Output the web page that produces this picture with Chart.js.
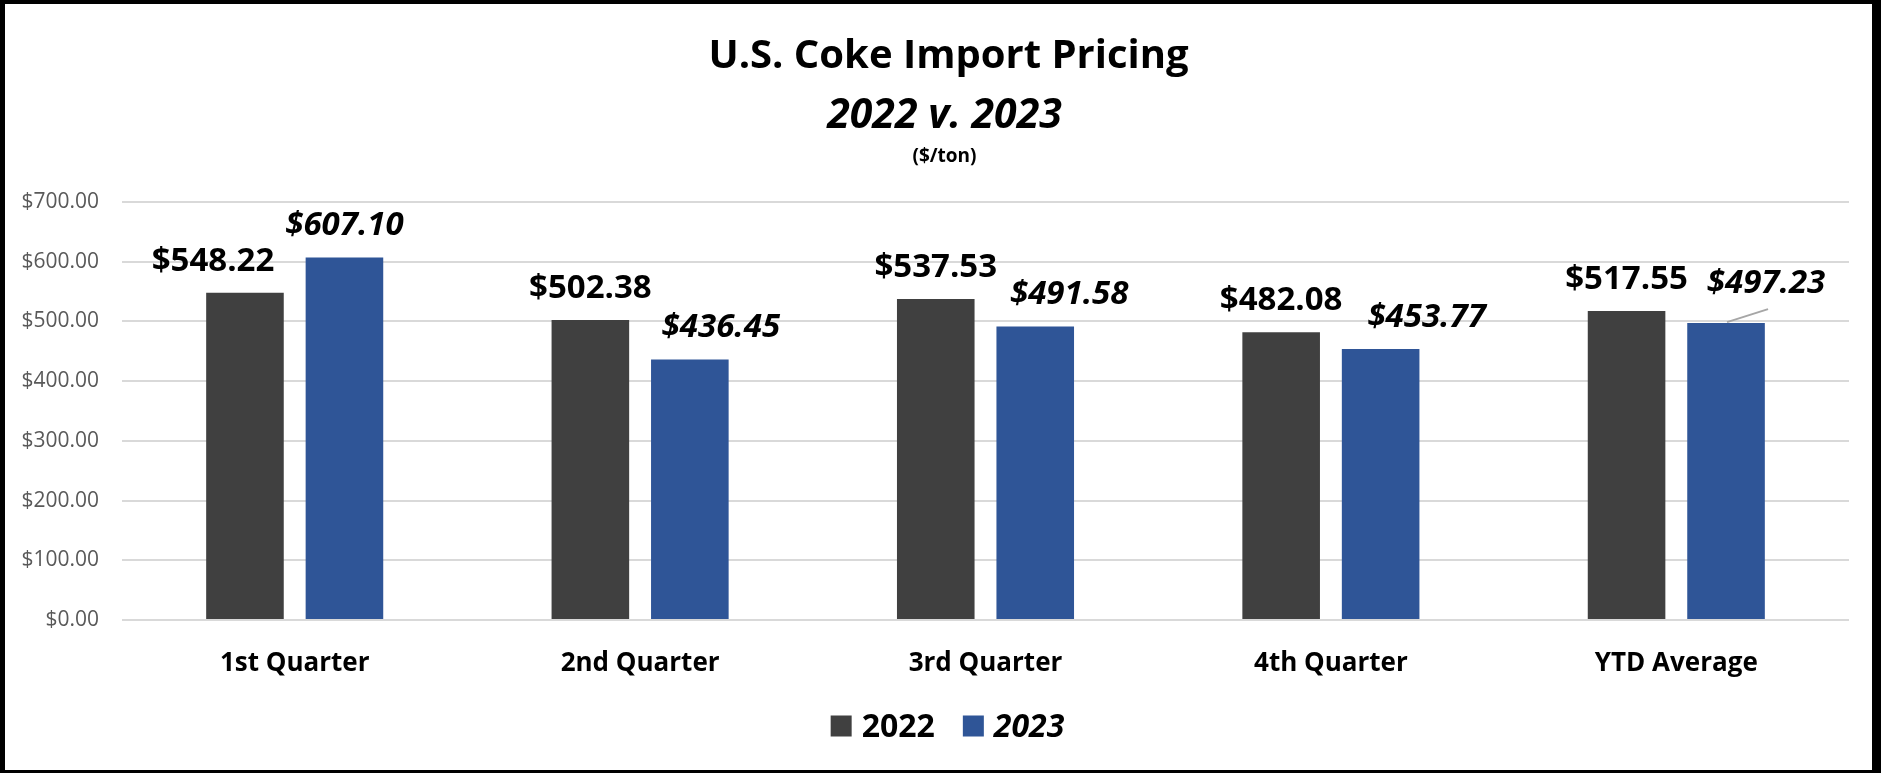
<!DOCTYPE html>
<html>
<head>
<meta charset="utf-8">
<script src="https://cdn.jsdelivr.net/npm/chart.js@4.4.1/dist/chart.umd.min.js"></script>
<style>
  html, body { margin: 0; padding: 0; background: #fff; }
  #wrap {
    width: 1881px; height: 773px; box-sizing: border-box;
    border-style: solid; border-color: #000;
    border-width: 4px 9px 3px 5px;
  }
  #chart { display: block; }
</style>
</head>
<body>
<div id="wrap"><canvas id="chart" width="1867" height="766"></canvas></div>
<script>
// data
const categories = ['1st Quarter', '2nd Quarter', '3rd Quarter', '4th Quarter', 'YTD Average'];
const series2022 = [548.22, 502.38, 537.53, 482.08, 517.55];
const series2023 = [607.10, 436.45, 491.58, 453.77, 497.23];
const yTicks = [0, 100, 200, 300, 400, 500, 600, 700];

const FONT = "'Open Sans', sans-serif";
const money = v => '$' + Number(v).toFixed(2);

// value labels above each bar (some nudged sideways like in the original)
const valueLabels = {
    id: 'valueLabels',
    afterDatasetsDraw(chart) {
        const ctx = chart.ctx;
        ctx.save();
        ctx.textAlign = 'center';
        ctx.textBaseline = 'alphabetic';
        chart.data.datasets.forEach((ds, i) => {
            const meta = chart.getDatasetMeta(i);
            meta.data.forEach((bar, j) => {
                const x = bar.x + ds.labelDx[j];
                const y = bar.y - 22 + ds.labelDy[j];
                if (ds.leader[j]) {
                    ctx.strokeStyle = '#a6a6a6';
                    ctx.lineWidth = 2;
                    ctx.beginPath();
                    ctx.moveTo(bar.x + 1, bar.y - 1);
                    ctx.lineTo(x + 2, y + 16);
                    ctx.stroke();
                }
                ctx.fillStyle = '#000';
                ctx.font = ds.labelFont;
                ctx.fillText(money(ds.data[j]), x, y);
            });
        });
        ctx.restore();
    }
};

// three line title + legend with mixed upright / italic text
const decorations = {
    id: 'decorations',
    afterDraw(chart) {
        const ctx = chart.ctx;
        const cx = chart.width / 2 + 6;
        ctx.save();
        ctx.fillStyle = '#000';
        ctx.textAlign = 'center';
        ctx.textBaseline = 'alphabetic';
        ctx.font = 'bold 40px ' + FONT;
        ctx.fillText('U.S. Coke Import Pricing', cx + 4, 64);
        ctx.font = 'italic bold 41px ' + FONT;
        ctx.fillText('2022 v. 2023', cx, 124);
        ctx.font = 'bold 19px ' + FONT;
        ctx.fillText('($/ton)', cx, 158);

        // legend
        const box = 21, cy = 722;
        const items = chart.data.datasets.map(ds => {
            ctx.font = ds.legendFont;
            return { ds, w: ctx.measureText(ds.label).width };
        });
        const total = items.reduce((s, it) => s + box + 10 + it.w, 0) + 28 * (items.length - 1);
        let x = cx + 3 - total / 2;
        ctx.textAlign = 'left';
        ctx.textBaseline = 'middle';
        items.forEach(it => {
            ctx.fillStyle = it.ds.backgroundColor;
            ctx.fillRect(x, cy - box / 2, box, box);
            x += box + 10;
            ctx.fillStyle = '#000';
            ctx.font = it.ds.legendFont;
            ctx.fillText(it.ds.label, x, cy + 2);
            x += it.w + 28;
        });
        ctx.restore();
    }
};

new Chart(document.getElementById('chart'), {
    type: 'bar',
    data: {
        labels: categories,
        datasets: [{
            label: '2022',
            data: series2022,
            backgroundColor: '#404040',
            labelFont: 'bold 33px ' + FONT,
            legendFont: 'bold 32px ' + FONT,
            labelDx: [-32, 0, 0, 0, 0],
            labelDy: [0, 0, 0, 0, 0],
            leader: [false, false, false, false, false]
        }, {
            label: '2023',
            data: series2023,
            backgroundColor: '#2F5597',
            labelFont: 'italic bold 33px ' + FONT,
            legendFont: 'italic bold 32px ' + FONT,
            labelDx: [0, 31, 34, 46, 40],
            labelDy: [0, 0, 0, 0, -8],
            leader: [false, false, false, false, true]
        }]
    },
    options: {
        responsive: false,
        animation: false,
        categoryPercentage: 0.576,
        barPercentage: 0.78,
        layout: { padding: { top: 198, right: 23, bottom: 80, left: 0 } },
        plugins: {
            legend: { display: false },
            title: { display: false },
            tooltip: { enabled: false }
        },
        scales: {
            x: {
                grid: { display: false },
                border: { display: false },
                ticks: {
                    color: '#000',
                    padding: 20,
                    font: { family: FONT, size: 26, weight: 'bold' }
                },
                afterFit(scale) { scale.height = 70; }
            },
            y: {
                min: yTicks[0],
                max: yTicks[yTicks.length - 1],
                afterBuildTicks(scale) { scale.ticks = yTicks.map(v => ({ value: v })); },
                grid: { color: '#d9d9d9', lineWidth: 2, drawTicks: false },
                border: { display: false },
                ticks: {
                    color: '#595959',
                    padding: 23,
                    font: { family: FONT, size: 21 },
                    callback: v => money(v)
                },
                afterFit(scale) { scale.width = 117; }
            }
        }
    },
    plugins: [valueLabels, decorations]
});
</script>
</body>
</html>
